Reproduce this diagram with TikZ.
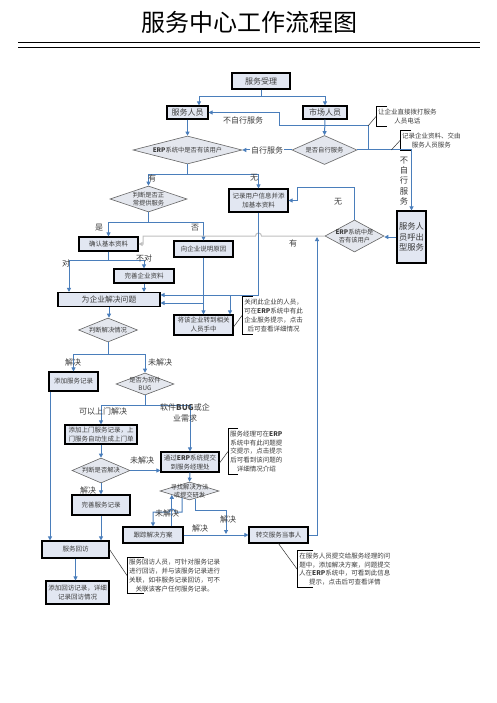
\documentclass[tikz,border=0pt]{standalone}
\usepackage{fontspec}
\setmainfont{Noto Sans CJK SC}
\usetikzlibrary{shapes.geometric,arrows.meta,calc}
\definecolor{lineblue}{RGB}{74,126,187}
\definecolor{boxfill}{RGB}{226,231,242}
\definecolor{diafill}{RGB}{228,231,238}
\definecolor{diaborder}{RGB}{100,100,100}
\definecolor{graylink}{RGB}{192,192,192}
\definecolor{txt}{RGB}{60,60,60}
\tikzset{
 bx/.style={draw=black, line width=1.1pt, fill=boxfill, inner sep=0pt, align=center, text=txt, font=\fontsize{6.5}{9}\selectfont},
 dia/.style={diamond, draw=diaborder, line width=0.6pt, fill=diafill, inner sep=0pt},
 dtext/.style={align=center, inner sep=0pt, text=txt, font=\fontsize{6.3}{8}\selectfont},
 lab/.style={inner sep=0pt, font=\fontsize{8}{9}\selectfont, text=txt},
 arr/.style={draw=lineblue, line width=1pt, -{Triangle[length=4pt,width=4pt]}},
 garr/.style={draw=graylink, line width=1pt, -{Triangle[length=4pt,width=4pt]}},
 note/.style={align=center, inner xsep=2pt, inner ysep=0pt, font=\fontsize{6.5}{8.7}\selectfont, text=txt},
 brk/.style={draw=black, line width=0.9pt},
 lead/.style={draw=black!80, line width=0.5pt},
}
\begin{document}
\begin{tikzpicture}[x=1pt,y=-1pt]
\useasboundingbox (0,0) rectangle (497,703);
\fill[white] (0,0) rectangle (497,703);

% title
\node[inner sep=0pt, font=\fontsize{24}{24}\selectfont] (title) at (249,22) {服务中心工作流程图};
\draw[line width=1.6pt] (18,42.5) -- (480,42.5);
\draw[line width=0.7pt] (18,47.5) -- (480,47.5);

% boxes
\node[bx, font=\fontsize{8}{9}\selectfont, minimum width=58, minimum height=16] (sl) at (261,81) {服务受理};
\node[bx, font=\fontsize{8}{9}\selectfont, minimum width=41, minimum height=13] (fwry) at (187.5,112.5) {服务人员};
\node[bx, font=\fontsize{8}{9}\selectfont, minimum width=44, minimum height=13] (scry) at (325,112.5) {市场人员};
\node[bx, minimum width=59, minimum height=23] (jl) at (258.5,200.5) {记录用户信息并添\\加基本资料};
\node[bx, font=\fontsize{8.3}{10.5}\selectfont, minimum width=29, minimum height=52] (hc) at (411.5,237) {服务人\\员呼出\\型服务};
\node[bx, minimum width=59, minimum height=14] (qr) at (108.5,244) {确认基本资料};
\node[bx, minimum width=59, minimum height=16] (sm) at (203.5,249) {向企业说明原因};
\node[bx, minimum width=60, minimum height=14] (ws) at (144,276) {完善企业资料};
\node[bx, font=\fontsize{7.8}{9}\selectfont, minimum width=102, minimum height=14] (wt) at (109,299.5) {为企业解决问题};
\node[bx, minimum width=59, minimum height=20] (zd) at (203.5,325) {将该企业转到相关\\人员手中};
\node[bx, minimum width=49, minimum height=19] (tj) at (73.5,381.5) {添加服务记录};
\node[bx, minimum width=72, minimum height=19] (smj) at (101,434.5) {添加上门服务记录，上\\门服务自动生成上门单};
\node[bx, minimum width=58, minimum height=20] (tg) at (190,462) {通过\textbf{ERP}系统提交\\到服务经理处};
\node[bx, minimum width=58, minimum height=20] (wsj) at (101,505) {完善服务记录};
\node[bx, minimum width=60, minimum height=16] (gz) at (153,535) {跟踪解决方案};
\node[bx, minimum width=59, minimum height=16] (zj) at (278.5,535) {转交服务当事人};
\node[bx, minimum width=67, minimum height=17] (hf) at (75.5,549.5) {服务回访};
\node[bx, minimum width=63, minimum height=23] (hj) at (77.5,592.5) {添加回访记录，详细\\记录回访情况};

% diamonds
\node[dia, minimum width=109, minimum height=28] (d1) at (187.5,150) {};
\node[dtext] (d1t) at (d1) {\textbf{ERP}系统中是否有该用户};
\node[dia, minimum width=65, minimum height=29] (d2) at (324.5,150) {};
\node[dtext] (d2t) at (d2) {是否自行服务};
\node[dia, minimum width=77, minimum height=26] (d3) at (148.5,199) {};
\node[dtext] (d3t) at (d3) {判断是否正\\常提供服务};
\node[dia, minimum width=59, minimum height=32] (d4) at (354.5,236) {};
\node[dtext] (d4t) at (d4) {\textbf{ERP}系统中是\\否有该用户};
\node[dia, minimum width=59, minimum height=24] (d5) at (108,330) {};
\node[dtext] (d5t) at (d5) {判断解决情况};
\node[dia, minimum width=58, minimum height=22] (d6) at (145,384) {};
\node[dtext] (d6t) at (d6) {是否为软件\\BUG};
\node[dia, minimum width=58, minimum height=25] (d7) at (101,470.5) {};
\node[dtext] (d7t) at (d7) {判断是否解决};
\node[dia, minimum width=59, minimum height=18] (d8) at (189.5,491) {};
\node[dtext] (d8t) at (d8) {寻找解决方法\\或提交研发};

% notes
\node[note, anchor=west, minimum height=19] (n1) at (376,116.5) {让企业直接拨打服务\\人员电话};
\node[note, anchor=west, minimum height=19] (n2) at (400,140.5) {记录企业资料、交由\\服务人员服务};
\node[note, anchor=west, minimum height=37] (n3) at (242,315.5) {关闭此企业的人员，\\可在\textbf{ERP}系统中有此\\企业服务提示，点击\\后可查看详细情况};
\node[note, anchor=west, minimum height=45] (n4) at (228,451.5) {服务经理可在\textbf{ERP}\\系统中有此问题提\\交提示，点击提示\\后可看到该问题的\\详细情况介绍};
\node[note, anchor=west, minimum height=35] (n5) at (127,575.5) {服务回访人员，可针对服务记录\\进行回访，并与该服务记录进行\\关联，如非服务记录回访，可不\\关联该客户任何服务记录。};
\node[note, anchor=west, minimum height=36] (n6) at (297,569) {在服务人员提交给服务经理的问\\题中，添加解决方案，问题提交\\人在\textbf{ERP}系统中，可看到此信息\\提示，点击后可查看详情};
\foreach \n/\t in {n1/11,n2/11,n3/11,n4/10,n5/17,n6/16}{
  \draw[brk] ([xshift=\t pt]\n.north west) -- (\n.north west) -- (\n.south west) -- ([xshift=\t pt]\n.south west);
}

% helper coordinates
\coordinate (j1) at (368,126);
\coordinate (b1) at (279,126);
\coordinate (c2) at (297,188);
\coordinate (c3) at (143,236);
\coordinate (c5) at (203.5,303);
\coordinate (c6) at (230,295);
\coordinate (c7) at (317,237);
\coordinate (c8) at (226,510);
\coordinate (u1) at ($(d8.south)!0.25!(d8.west)$);
\coordinate (u2) at ($(d8.south)!0.19!(d8.east)$);
\coordinate (u3) at ($(d8.south)!0.593!(d8.west)$);

% connectors
\draw[arr] (sl.south) -- ++(0,7) -| ([xshift=11.5pt]fwry.north);
\draw[arr] (sl.south) -- ++(0,7) -| (scry.north);
\draw[arr] (fwry.south) -- (d1.north);
\draw[arr] (scry.south) -- (d2.north);
\draw[arr] (d2.west) -- node[lab, fill=white, inner xsep=1pt] (l1) {自行服务} (d1.east);
\draw[arr] (d2.east) -| (hc.north);
\draw[arr] (d2.east -| j1) -- (j1) -- (b1) |- (fwry.east);
\draw[lead] (j1) -- (n1.west);
\draw[lead] ([xshift=34pt]d2.east) -- (n2.west);
\node[lab] (l2) at (243,120) {不自行服务};
\node[lab, align=center, font=\fontsize{8.3}{10.3}\selectfont] (l3) at (404,181) {不\\自\\行\\服\\务};

\draw[arr] (d1.south) -- ++(0,10) -| (d3.north);
\draw[arr] (d1.south) -- ++(0,10) -| (jl.north);
\node[lab] (l4) at (152,178) {有};
\node[lab] (l5) at (254,178) {无};

\draw[arr] (d4.north) |- (c2) |- (jl.east);
\node[lab] (l6) at (338,202) {无};
\draw[arr] (hc.west) -- (hc.west -| d4.east);

\draw[arr] (d3.south) -- ++(0,10.5) -| (qr.north);
\draw[arr] (d3.south) -- ++(0,10.5) -| (sm.north);
\node[lab] (l7) at (99,228) {是};
\node[lab] (l8) at (195,228) {否};

\draw[garr] (d4.west) -- (261.5,236) arc[start angle=0, end angle=-180, radius=3] -- (c3) |- (qr.east);
\node[lab] (l9) at (293,243) {有};

\draw[arr] (qr.south) -- ++(0,9) -| ([xshift=-40pt]wt.north);
\draw[arr] (qr.south) -- ++(0,9) -| (ws.north);
\node[lab] (l10) at (66,263) {对};
\node[lab] (l11) at (144,258) {不对};
\draw[arr] (ws.south) -- (ws.south |- wt.north);

\draw[arr] (sm.south) -- (zd.north);
\draw[arr] (c5) -- (c5 -| wt.east);
\draw[arr] (jl.south) |- (c6 -| wt.east);
\draw[arr] (c6) -- (c6 |- zd.north);
\draw[lead] ([yshift=-2pt]zd.east) -- (n3.west);
\draw[arr] (zj.east) -| (c7);

\draw[arr] (wt.south) -- (wt.south |- d5.north);
\draw[arr] (d5.south) -- ++(0,12) -| (tj.north);
\draw[arr] (d5.south) -- ++(0,12) -| (d6.north);
\node[lab] (l12) at (73,362) {解决};
\node[lab] (l13) at (160,362) {未解决};

\draw[arr] (d6.south) -- ++(0,10) -| (smj.north);
\draw[arr] (d6.south) -- ++(0,10) -| (tg.north);
\node[lab] (l14) at (103,411) {可以上门解决};
\node[lab, align=center, font=\fontsize{8}{11}\selectfont] (l15) at (185,412.5) {软件\textbf{BUG}或企\\业需求};

\draw[arr] (smj.south) -- (d7.north);
\draw[arr] (d7.east) -- (d7.east -| tg.west);
\node[lab] (l16) at (142,460) {未解决};
\draw[arr] (tg.south) -- (d8.north);
\draw[lead] ([yshift=-1pt]tg.east) -- (n4.west);

\draw[arr] (d7.south) -- (wsj.north);
\node[lab] (l17) at (88,490) {解决};

\draw[arr] (u2) -- (u2 |- c8) -- (c8) -- ([yshift=1pt]c8 |- gz.east);
\node[lab] (l18) at (228,519) {解决};
\draw[arr] (u1) -- (u1 |- 0,512) -- (175,512) arc[start angle=0, end angle=-180, radius=3] -- (153,512) -- (gz.north);
\draw[arr] (u3 |- gz.north) -- (u3);
\node[lab] (l19) at (167,513) {未解决};
\draw[arr] (gz.east) -- (zj.west);
\node[lab] (l20) at (200,528) {解决};
\draw[lead] (zj.south) -- (n6.west);

\draw[arr] ([xshift=-23.5pt]tj.south) -- ([xshift=-25.5pt]hf.north);
\draw[arr] (wsj.south) -- (wsj.south |- hf.north);
\draw[arr] (hf.south) -- (hf.south |- hj.north);
\draw[lead] (hf.east) -- (n5.west);
\end{tikzpicture}
\end{document}
